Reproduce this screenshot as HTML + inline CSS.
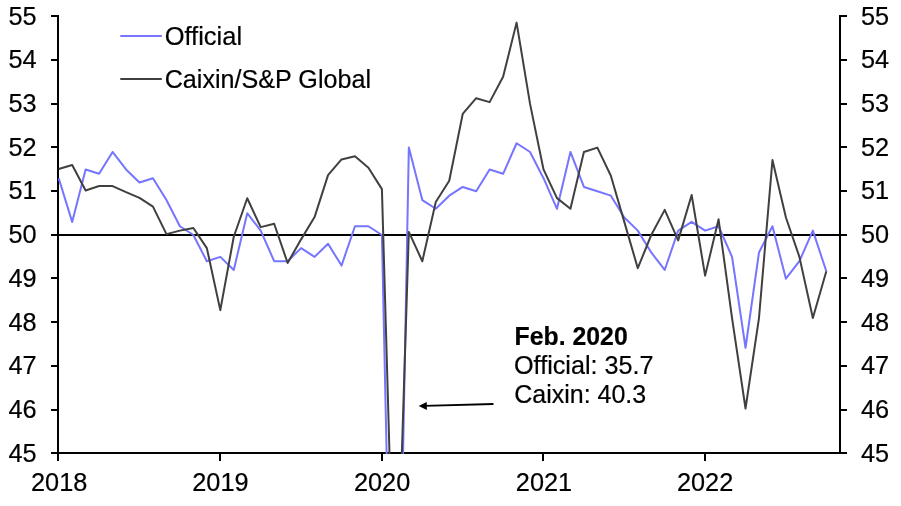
<!DOCTYPE html>
<html><head><meta charset="utf-8"><title>PMI</title>
<style>
html,body{margin:0;padding:0;background:#fff;}
body{width:901px;height:506px;overflow:hidden;}
svg{display:block;}
text{font-family:"Liberation Sans",Arial,Helvetica,sans-serif;font-size:25.3px;fill:#000;stroke:#000;stroke-width:0.2px;}
.b{font-weight:bold;}
</style></head><body>
<svg width="901" height="506" viewBox="0 0 901 506">
<rect width="901" height="506" fill="#fff"/>
<defs><clipPath id="c"><rect x="57" y="0" width="784" height="454"/></clipPath></defs>

<g fill="#000" shape-rendering="crispEdges">
<rect x="57" y="15" width="2" height="446"/>
<rect x="839" y="15" width="2" height="439"/>
<rect x="51" y="452" width="796" height="2"/>
<rect x="57" y="234" width="784" height="2"/>
<rect x="51" y="15" width="7" height="2"/>
<rect x="840" y="15" width="7" height="2"/>
<rect x="51" y="59" width="7" height="2"/>
<rect x="840" y="59" width="7" height="2"/>
<rect x="51" y="103" width="7" height="2"/>
<rect x="840" y="103" width="7" height="2"/>
<rect x="51" y="146" width="7" height="2"/>
<rect x="840" y="146" width="7" height="2"/>
<rect x="51" y="190" width="7" height="2"/>
<rect x="840" y="190" width="7" height="2"/>
<rect x="51" y="234" width="7" height="2"/>
<rect x="840" y="234" width="7" height="2"/>
<rect x="51" y="277" width="7" height="2"/>
<rect x="840" y="277" width="7" height="2"/>
<rect x="51" y="321" width="7" height="2"/>
<rect x="840" y="321" width="7" height="2"/>
<rect x="51" y="365" width="7" height="2"/>
<rect x="840" y="365" width="7" height="2"/>
<rect x="51" y="409" width="7" height="2"/>
<rect x="840" y="409" width="7" height="2"/>
<rect x="51" y="452" width="7" height="2"/>
<rect x="840" y="452" width="7" height="2"/>
<rect x="219" y="453" width="2" height="8"/>
<rect x="381" y="453" width="2" height="8"/>
<rect x="542" y="453" width="2" height="8"/>
<rect x="704" y="453" width="2" height="8"/>
</g>
<g clip-path="url(#c)" fill="none" stroke-width="2" stroke-linejoin="round">
<polyline stroke="#7575ff" points="58.70,178.19 72.17,221.89 85.63,169.45 99.10,173.82 112.57,151.97 126.04,169.45 139.50,182.56 152.97,178.19 166.44,200.04 179.90,226.26 193.37,235.00 206.84,261.22 220.30,256.85 233.77,269.96 247.24,213.15 260.70,230.63 274.17,261.22 287.64,261.22 301.11,248.11 314.57,256.85 328.04,243.74 341.51,265.59 354.97,226.26 368.44,226.26 381.91,235.00 395.38,859.91 408.84,147.60 422.31,200.04 435.78,208.78 449.24,195.67 462.71,186.93 476.18,191.30 489.64,169.45 503.11,173.82 516.58,143.23 530.05,151.97 543.51,178.19 556.98,208.78 570.45,151.97 583.91,186.93 597.38,191.30 610.85,195.67 624.31,217.52 637.78,230.63 651.25,252.48 664.72,269.96 678.18,230.63 691.65,221.89 705.12,230.63 718.58,226.26 732.05,256.85 745.52,347.75 758.98,252.48 772.45,226.26 785.92,278.70 799.39,261.22 812.85,230.63 826.32,271.27"/>
<polyline stroke="#404040" points="58.70,169.01 72.17,165.08 85.63,190.43 99.10,186.06 112.57,186.06 126.04,192.17 139.50,197.85 152.97,206.60 166.44,234.13 179.90,230.63 193.37,228.01 206.84,248.11 220.30,310.16 233.77,236.75 247.24,198.29 260.70,227.13 274.17,223.77 287.64,262.97 301.11,239.37 314.57,217.08 328.04,175.13 341.51,159.40 354.97,156.34 368.44,167.70 381.91,189.12 395.38,658.89 408.84,231.94 422.31,261.22 435.78,202.01 449.24,180.81 462.71,113.95 476.18,98.22 489.64,102.15 503.11,76.81 516.58,22.62 530.05,103.90 543.51,169.45 556.98,198.16 570.45,208.78 583.91,151.97 597.38,147.60 610.85,175.70 624.31,221.89 637.78,268.21 651.25,235.00 664.72,209.87 678.18,240.38 691.65,195.01 705.12,275.64 718.58,219.27 732.05,318.03 745.52,408.49 758.98,318.03 772.45,160.05 785.92,217.52 799.39,256.85 812.85,318.03 826.32,271.27"/>
</g>
<text x="36.6" y="24.8" text-anchor="end">55</text>
<text x="861" y="24.8">55</text>
<text x="36.6" y="67.8" text-anchor="end">54</text>
<text x="861" y="67.8">54</text>
<text x="36.6" y="111.8" text-anchor="end">53</text>
<text x="861" y="111.8">53</text>
<text x="36.6" y="155.8" text-anchor="end">52</text>
<text x="861" y="155.8">52</text>
<text x="36.6" y="198.8" text-anchor="end">51</text>
<text x="861" y="198.8">51</text>
<text x="36.6" y="242.8" text-anchor="end">50</text>
<text x="861" y="242.8">50</text>
<text x="36.6" y="286.8" text-anchor="end">49</text>
<text x="861" y="286.8">49</text>
<text x="36.6" y="330.8" text-anchor="end">48</text>
<text x="861" y="330.8">48</text>
<text x="36.6" y="373.8" text-anchor="end">47</text>
<text x="861" y="373.8">47</text>
<text x="36.6" y="417.8" text-anchor="end">46</text>
<text x="861" y="417.8">46</text>
<text x="36.6" y="461.8" text-anchor="end">45</text>
<text x="861" y="461.8">45</text>
<text x="59.2" y="490.8" text-anchor="middle">2018</text>
<text x="220.4" y="490.8" text-anchor="middle">2019</text>
<text x="382.1" y="490.8" text-anchor="middle">2020</text>
<text x="544.0" y="490.8" text-anchor="middle">2021</text>
<text x="705.1" y="490.8" text-anchor="middle">2022</text>
<line x1="120.3" y1="36" x2="161.8" y2="36" stroke="#7575ff" stroke-width="2"/>
<text x="164.7" y="44.7" textLength="77.4" lengthAdjust="spacingAndGlyphs">Official</text>
<line x1="120.3" y1="79" x2="161.8" y2="79" stroke="#404040" stroke-width="2"/>
<text x="164.7" y="87.7" textLength="206.3" lengthAdjust="spacingAndGlyphs">Caixin/S&amp;P Global</text>
<text class="b" x="514.6" y="344.8" textLength="113.1" lengthAdjust="spacingAndGlyphs">Feb. 2020</text>
<text x="514" y="373.6" textLength="139.6" lengthAdjust="spacingAndGlyphs">Official: 35.7</text>
<text x="514.2" y="402.9" textLength="132.0" lengthAdjust="spacingAndGlyphs">Caixin: 40.3</text>
<line x1="493.5" y1="404" x2="424" y2="405.95" stroke="#000" stroke-width="1.8"/>
<polygon points="418.7,406.1 426.7,401.9 426.9,410.1" fill="#000"/>
</svg></body></html>
